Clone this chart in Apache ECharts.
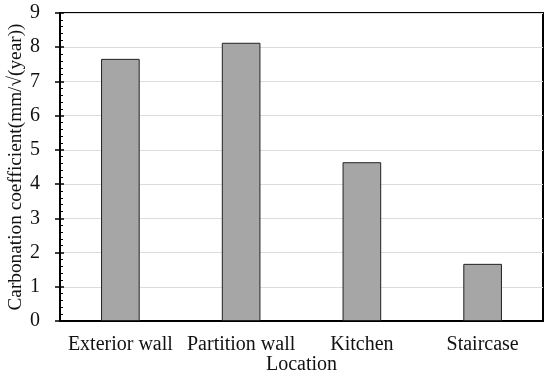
<!DOCTYPE html>
<html><head><meta charset="utf-8">
<script src="https://cdn.jsdelivr.net/npm/echarts@6/dist/echarts.min.js"></script>
<style>html,body{margin:0;padding:0;background:#fff}#c{width:550px;height:376px}</style>
</head><body><div id="c"></div>
<script>
const categories = ['Exterior wall', 'Partition wall', 'Kitchen', 'Staircase'];
const values = [7.66, 8.13, 4.64, 1.67];
const yTicks = [0, 1, 2, 3, 4, 5, 6, 7, 8, 9];

const font = 'Liberation Serif, Times New Roman, serif';
const chart = echarts.init(document.getElementById('c'), null, {renderer: 'canvas'});
chart.setOption({
  animation: false,
  grid: {left: 60, right: 7, top: 13, bottom: 55, containLabel: false, outerBoundsMode: 'none',
         show: true, borderColor: '#000', borderWidth: 2, backgroundColor: 'transparent'},
  xAxis: {
    type: 'category', data: categories,
    name: 'Location', nameLocation: 'middle', nameGap: 34, nameMoveOverlap: false,
    nameTextStyle: {fontFamily: font, fontSize: 20, color: '#111'},
    axisLine: {lineStyle: {color: '#000', width: 2}},
    axisTick: {show: false},
    axisLabel: {fontFamily: font, fontSize: 20, color: '#111', margin: 14, interval: 0}
  },
  yAxis: [{
    type: 'value', min: yTicks[0], max: yTicks[yTicks.length - 1], interval: 1,
    name: 'Carbonation coefficient(mm/\u221A(year))', nameLocation: 'middle', nameGap: 35, nameMoveOverlap: false,
    nameTextStyle: {fontFamily: font, fontSize: 19.3, color: '#111'},
    axisLine: {show: true, lineStyle: {color: '#000', width: 2}},
    axisTick: {show: true, length: 5, lineStyle: {color: '#000', width: 1.5}},
    axisLabel: {fontFamily: font, fontSize: 20, color: '#111', margin: 20},
    splitLine: {show: true, lineStyle: {color: '#dcdcdc', width: 1}}
  }, {
    type: 'value', position: 'left', offset: 0, min: yTicks[0], max: yTicks[yTicks.length - 1], interval: 1,
    axisLine: {show: false},
    axisTick: {show: true, inside: true, length: 4, lineStyle: {color: '#000', width: 1.5}},
    minorTick: {show: true, splitNumber: 5, length: 3, lineStyle: {color: '#000', width: 1}},
    axisLabel: {show: false},
    splitLine: {show: false}
  }],
  series: [{
    type: 'bar', data: values, yAxisIndex: 0, barWidth: '32%',
    itemStyle: {color: '#a6a6a6', borderColor: '#222', borderWidth: 1}
  }]
});
</script>
</body></html>
